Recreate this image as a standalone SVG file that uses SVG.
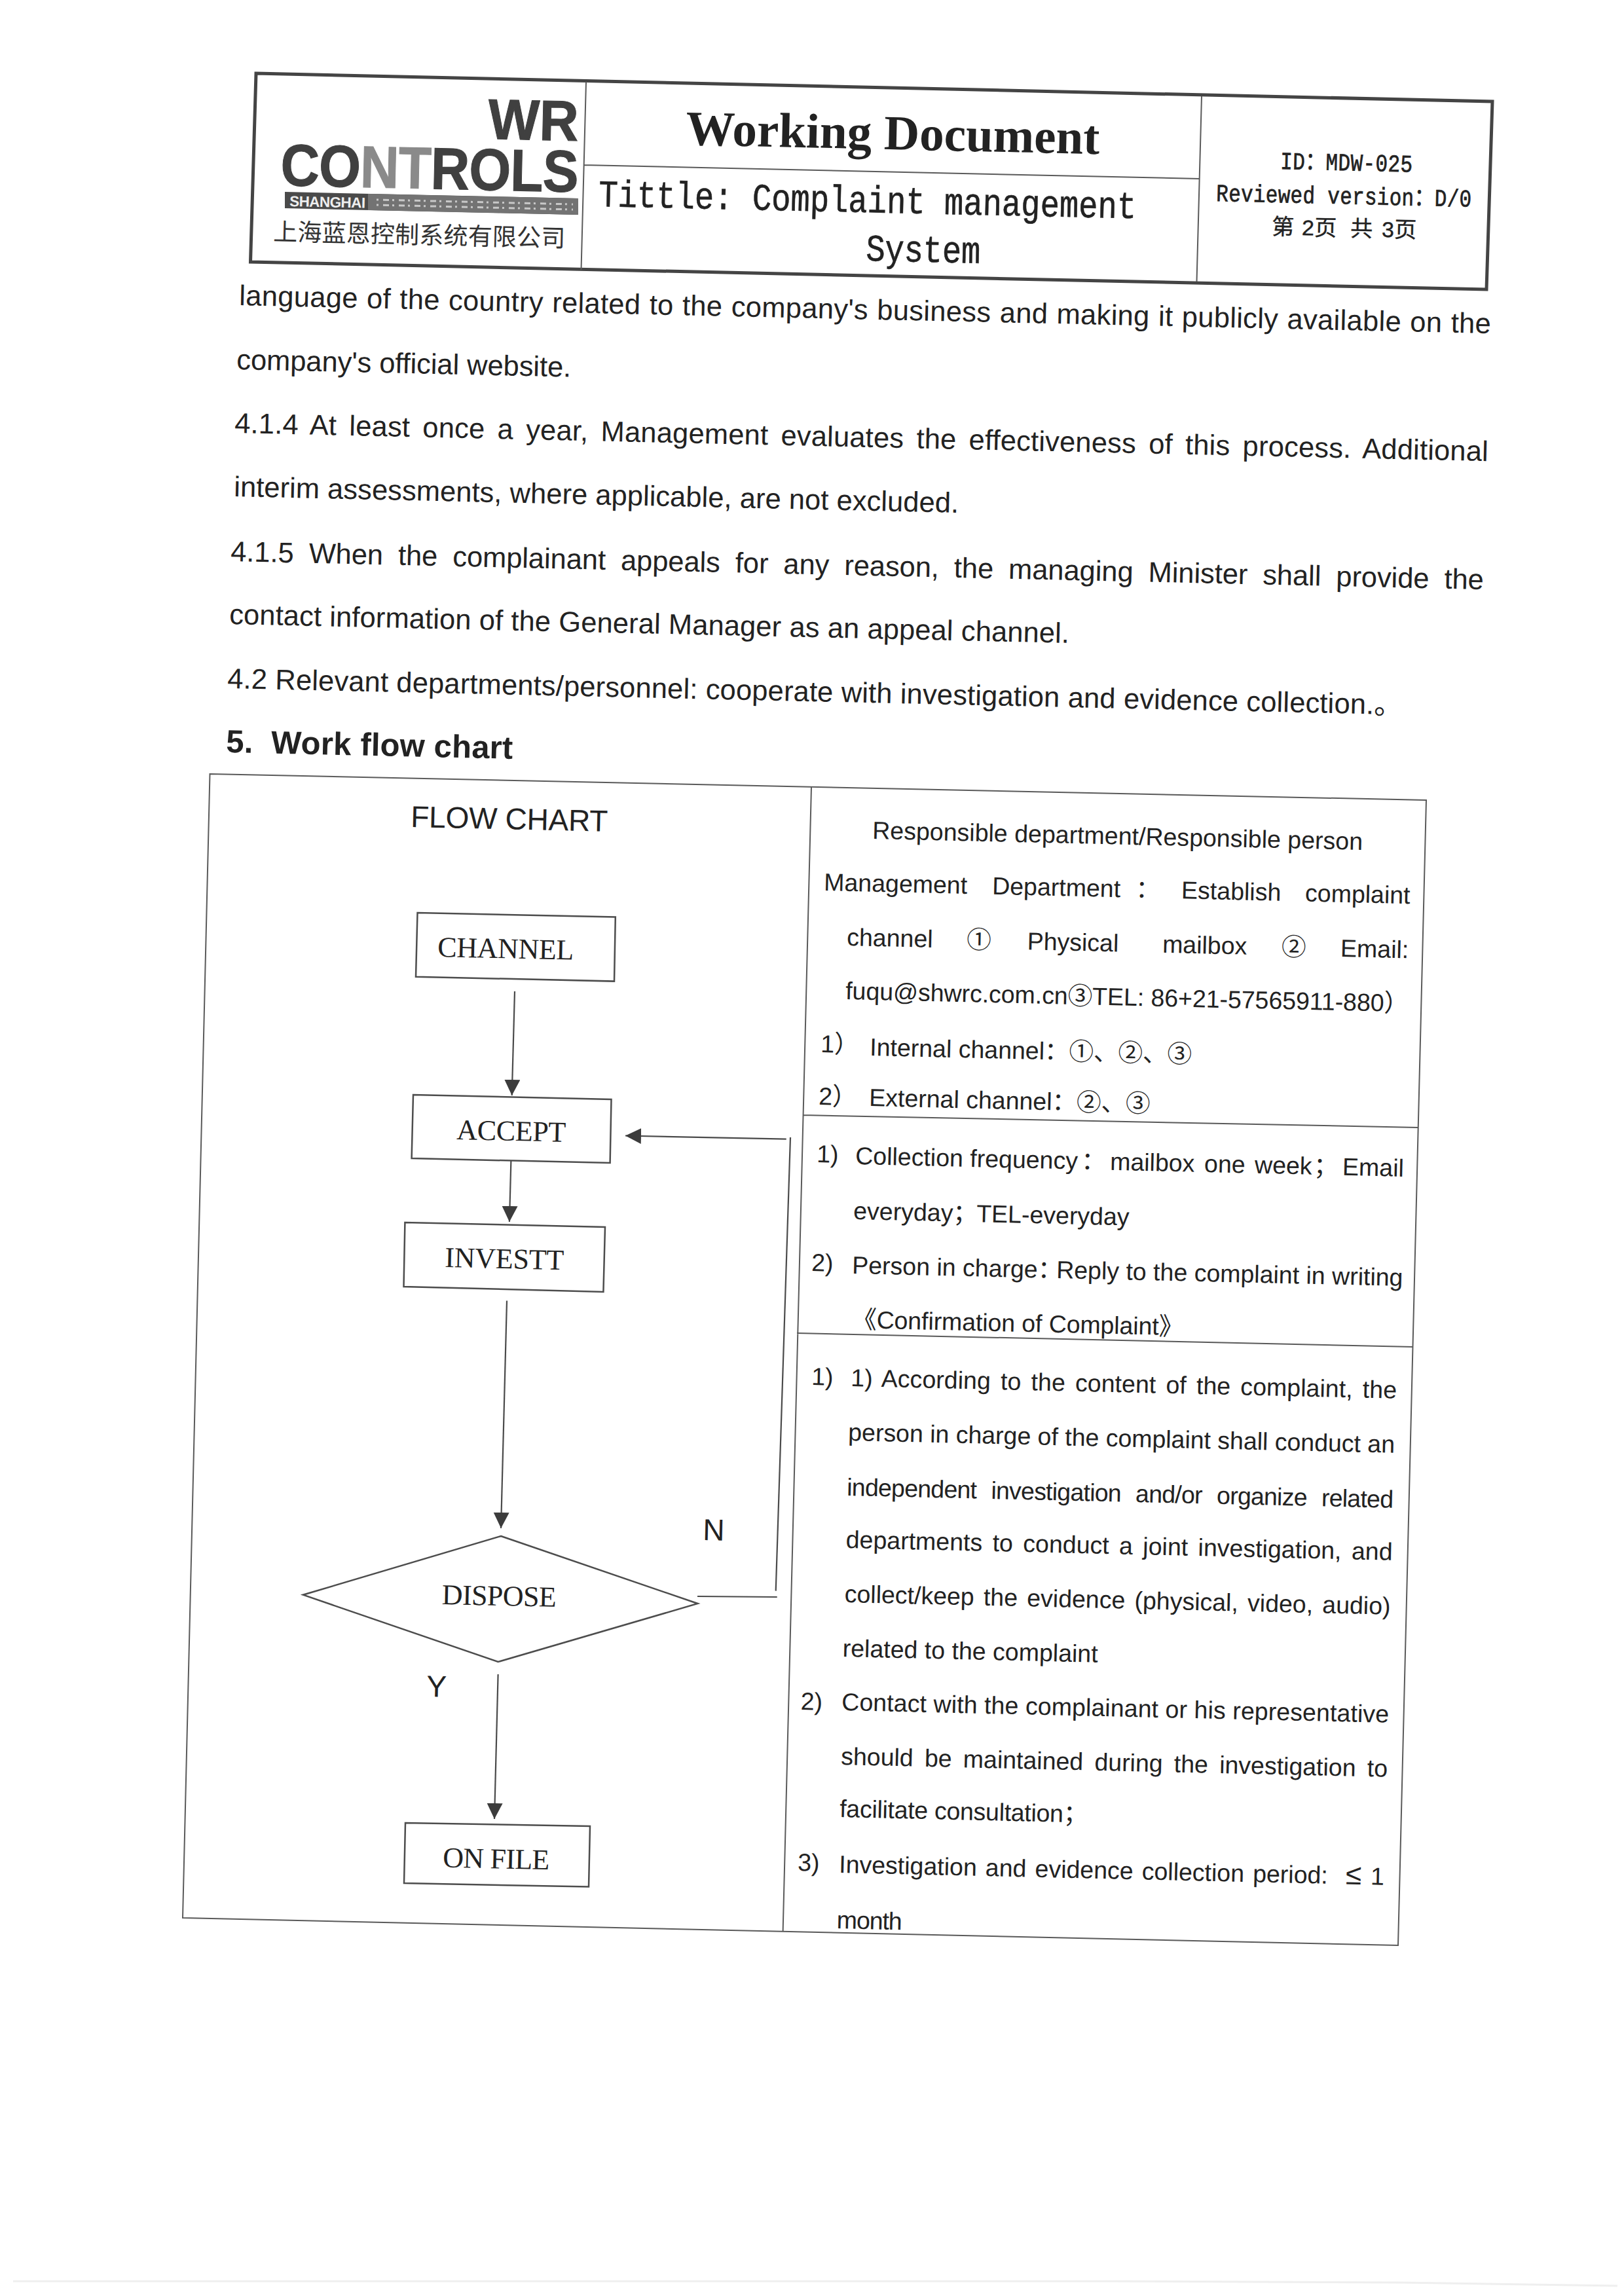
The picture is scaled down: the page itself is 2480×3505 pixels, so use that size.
<svg xmlns="http://www.w3.org/2000/svg" width="2480" height="3505" viewBox="0 0 2480 3505">
<style>
text{fill:#222;white-space:pre}
.b{font:43.5px "Liberation Sans","Noto Sans CJK SC",sans-serif}
.h{font:bold 49px "Liberation Sans",sans-serif}
.t{font:37.5px "Liberation Sans","Noto Sans CJK SC",sans-serif}
.s{font:44px "Liberation Serif",serif}
.l{font:46px "Liberation Sans",sans-serif}
.m{font:49px "Liberation Mono","Noto Sans CJK SC",monospace;stroke:#222;stroke-width:.5}
.i{font:31px "Liberation Mono","Noto Sans CJK SC",monospace;stroke:#222;stroke-width:.6}
.thin{fill:none;stroke:#5a5a5a;stroke-width:2}
.box{fill:#fff;stroke:#4d4d4d;stroke-width:2.5}
.con{fill:none;stroke:#4a4a4a;stroke-width:2.2}
.hd{fill:none;stroke:#444;stroke-width:5}
</style>
<defs>
<marker id="arrow" markerUnits="userSpaceOnUse" markerWidth="26" markerHeight="26" refX="24" refY="12" orient="auto">
<polygon points="0,0 24,12 0,24" fill="#3c3c3c"/>
</marker>
</defs>
<rect width="2480" height="3505" fill="#fff"/>
<path d="M20,3484 1700,3484 2140,3486 2470,3491" fill="none" stroke="#efefef" stroke-width="3"/>

<g id="header">
<polygon class="hd" points="391,112 2279,155 2270,442 382.5,400" fill="#fff"/>
<path class="thin" d="M895,125 887.5,412 M1835,147 1827.5,430 M891,252 1832,273"/>
<g id="logo">
<text transform="translate(745 212) rotate(1.29) scale(1 1.05)" textLength="138" style="font:bold 83px 'Liberation Sans',sans-serif;fill:#404040;stroke:#404040;stroke-width:1">WR</text>
<text transform="translate(428 283) rotate(1.29) scale(1 1.1)" textLength="455" lengthAdjust="spacing" style="font:bold 82px 'Liberation Sans',sans-serif;fill:#404040;stroke:#404040;stroke-width:1">CO<tspan fill="#8a8a8a" stroke="#8a8a8a">NT</tspan>ROLS</text>
<polygon points="435,293 883,303 883,328 435,318" fill="#4a4a4a"/>
<polygon points="562,296 883,303 883,328 562,321" fill="#737373"/>
<path d="M575,305 875,312 M575,313 875,320" stroke="#c8c8c8" stroke-width="3" stroke-dasharray="3 7 9 5" fill="none"/>
<text transform="translate(442 315) rotate(1.29)" textLength="116" style="font:bold 22.5px 'Liberation Sans',sans-serif;fill:#eee">SHANGHAI</text>
<text transform="translate(417 367) rotate(1.29)" textLength="446" style="font:37px 'Noto Sans CJK SC',sans-serif;fill:#333">上海蓝恩控制系统有限公司</text>
</g>
<text transform="translate(1047 221) rotate(1.29)" textLength="632" style="font:bold 75px 'Liberation Serif',serif">Working Document</text>
<text class="m" transform="translate(914 315) rotate(1.29) scale(1 1.18)" textLength="821">Tittle: Complaint management</text>
<text class="m" transform="translate(1322 398) rotate(1.29) scale(1 1.18)" textLength="175">System</text>
<text class="i" transform="translate(1955 258) rotate(1.29) scale(1 1.2)" textLength="202">ID：MDW-025</text>
<text class="i" transform="translate(1857 307) rotate(1.29) scale(1 1.2)" textLength="390">Reviewed version：D/0</text>
<text transform="translate(1942 358) rotate(1.29)" style="font:34px 'Liberation Mono','Noto Sans CJK SC',monospace;stroke:#222;stroke-width:.4">第<tspan x="45">2</tspan><tspan x="65">页</tspan><tspan x="120">共</tspan><tspan x="167">3</tspan><tspan x="187">页</tspan></text>
</g>

<g id="body">
<text class="b" transform="translate(365 466) rotate(1.29)" textLength="1912" word-spacing="1">language of the country related to the company's business and making it publicly available on the</text>
<text class="b" transform="translate(361 564) rotate(1.29)" textLength="511">company's official website.</text>
<text class="b" transform="translate(358 661) rotate(1.29)" textLength="1915" word-spacing="7">4.1.4 At least once a year, Management evaluates the effectiveness of this process. Additional</text>
<text class="b" transform="translate(357 758) rotate(1.29)" textLength="1107">interim assessments, where applicable, are not excluded.</text>
<text class="b" transform="translate(352 857) rotate(1.29)" textLength="1914" word-spacing="11">4.1.5 When the complainant appeals for any reason, the managing Minister shall provide the</text>
<text class="b" transform="translate(350 953) rotate(1.29)" textLength="1283">contact information of the General Manager as an appeal channel.</text>
<text class="b" transform="translate(347 1051) rotate(1.29)" textLength="1795">4.2 Relevant departments/personnel: cooperate with investigation and evidence collection.。</text>
<text class="h" transform="translate(345 1149) rotate(1.29)" textLength="438">5.  Work flow chart</text>
</g>

<g id="table">
<polygon class="thin" points="320.5,1182 2178,1222 2135,2971 279,2929"/>
<path class="thin" d="M1239,1202 1195.6,2950 M1226,1703 2165,1722 M1217,2036 2157.6,2057"/>
<text class="l" transform="translate(627 1263) rotate(1.29)" textLength="301">FLOW CHART</text>
<g id="cell-1">
<text class="t" transform="translate(1332 1281) rotate(1.29)" textLength="749">Responsible department/Responsible person</text>
<text class="t" transform="translate(1258 1360) rotate(1.29)">Management<tspan x="257">Department</tspan><tspan x="476">：</tspan><tspan x="546">Establish</tspan><tspan x="735">complaint</tspan></text>
<text class="t" transform="translate(1293 1444) rotate(1.29)">channel<tspan x="183">①</tspan><tspan x="275.5">Physical</tspan><tspan x="482">mailbox</tspan><tspan x="664">②</tspan><tspan x="754">Email:</tspan></text>
<text class="t" transform="translate(1291 1526) rotate(1.29)" textLength="860">fuqu@shwrc.com.cn③TEL: 86+21-57565911-880）</text>
<text class="t" transform="translate(1253 1607) rotate(1.29)">1）</text>
<text class="t" transform="translate(1328 1612) rotate(1.29)">Internal channel：①、②、③</text>
<text class="t" transform="translate(1250 1687) rotate(1.29)">2）</text>
<text class="t" transform="translate(1327 1689) rotate(1.29)">External channel：②、③</text>
</g>
<g id="cell-2">
<text class="t" transform="translate(1247 1775) rotate(1.29)">1)</text>
<text class="t" transform="translate(1306 1778) rotate(1.29)">Collection frequency<tspan x="345">：</tspan><tspan x="389">mailbox</tspan><tspan x="533">one</tspan><tspan x="610">week</tspan><tspan x="700">；</tspan><tspan x="744">Email</tspan></text>
<text class="t" transform="translate(1303 1862) rotate(1.29)">everyday；<tspan x="188">TEL-everyday</tspan></text>
<text class="t" transform="translate(1239 1941) rotate(1.29)">2)</text>
<text class="t" transform="translate(1301 1945) rotate(1.29)">Person in charge：<tspan x="312">Reply to the complaint in writing</tspan></text>
<text class="t" transform="translate(1301 2028) rotate(1.29)" textLength="506">《Confirmation of Complaint》</text>
</g>
<g id="cell-3">
<text class="t" transform="translate(1239 2115) rotate(1.29)">1)</text>
<text class="t" transform="translate(1299 2117) rotate(1.29)" textLength="834" word-spacing="4.7">1) According to the content of the complaint, the</text>
<text class="t" transform="translate(1295 2200) rotate(1.29)" textLength="835">person in charge of the complaint shall conduct an</text>
<text class="t" transform="translate(1293 2284) rotate(1.29)" textLength="835" word-spacing="12.6">independent investigation and/or organize related</text>
<text class="t" transform="translate(1291.5 2364) rotate(1.29)" textLength="835" word-spacing="5">departments to conduct a joint investigation, and</text>
<text class="t" transform="translate(1289.5 2447) rotate(1.29)" textLength="834" word-spacing="3.8">collect/keep the evidence (physical, video, audio)</text>
<text class="t" transform="translate(1286.5 2530) rotate(1.29)" textLength="390">related to the complaint</text>
<text class="t" transform="translate(1222.5 2611) rotate(1.29)">2)</text>
<text class="t" transform="translate(1285 2612) rotate(1.29)" textLength="836">Contact with the complainant or his representative</text>
<text class="t" transform="translate(1284 2695) rotate(1.29)" textLength="835" word-spacing="6.8">should be maintained during the investigation to</text>
<text class="t" transform="translate(1282 2775) rotate(1.29)" textLength="379">facilitate consultation；</text>
<text class="t" transform="translate(1218 2857) rotate(1.29)">3)</text>
<text class="t" transform="translate(1281 2860) rotate(1.29)" word-spacing="2.7">Investigation and evidence collection period:<tspan x="774" font-size="44">≤</tspan><tspan x="812">1</tspan></text>
<text class="t" transform="translate(1277.5 2945) rotate(1.29)" textLength="100">month</text>
</g>
</g>

<g id="connectors">
<path class="con" d="M786,1514 781.7,1673" marker-end="url(#arrow)"/>
<path class="con" d="M780.4,1772 777.9,1866" marker-end="url(#arrow)"/>
<path class="con" d="M774,1986.5 765,2334" marker-end="url(#arrow)"/>
<path class="con" d="M760.6,2557 755,2778" marker-end="url(#arrow)"/>
<path class="con" d="M1065,2438 1186.7,2439"/>
<path class="con" d="M1184.7,2429.6 1207,1737"/>
<path class="con" d="M1200.7,1739.7 955,1734.5" marker-end="url(#arrow)"/>
</g>

<g id="node-channel">
<polygon class="box" points="637.5,1394 939.8,1400.4 938,1498.6 635,1491.7"/>
<text class="s" transform="translate(668 1461) rotate(1.29)" textLength="208">CHANNEL</text>
</g>
<g id="node-accept">
<polygon class="box" points="631,1672 933.5,1679 931.6,1776 628.6,1769"/>
<text class="s" transform="translate(697 1740) rotate(1.29)" textLength="167">ACCEPT</text>
</g>
<g id="node-investt">
<polygon class="box" points="618.4,1867 924,1874 921.4,1973 616.5,1965"/>
<text class="s" transform="translate(679 1935) rotate(1.29)" textLength="182">INVESTT</text>
</g>
<g id="node-dispose">
<polygon class="box" points="765,2346 1065.5,2449 760.6,2538 462.8,2435.7"/>
<text class="s" transform="translate(674.5 2450) rotate(1.29)" textLength="175">DISPOSE</text>
</g>
<g id="node-onfile">
<polygon class="box" points="619,2784 901,2789 899,2881.6 617,2876"/>
<text class="s" transform="translate(676 2851.5) rotate(1.29)" textLength="163">ON FILE</text>
</g>
<text class="l" transform="translate(1073 2352) rotate(1.29)">N</text>
<text class="l" transform="translate(651 2591) rotate(1.29)">Y</text>
</svg>
